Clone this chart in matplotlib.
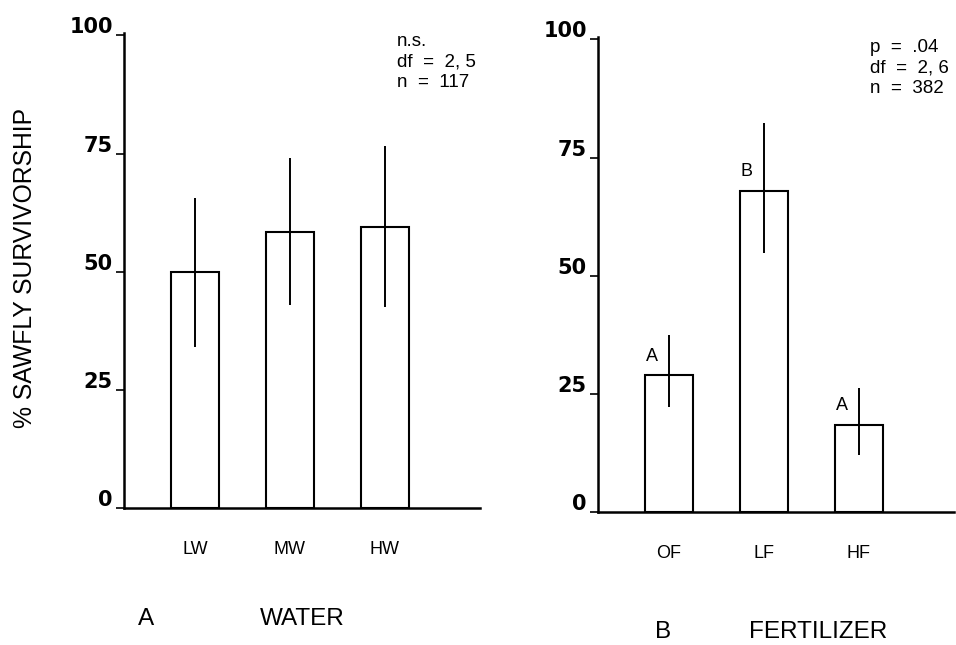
import numpy as np
import matplotlib
matplotlib.use("Agg")
import matplotlib.pyplot as plt
import matplotlib.transforms as mtransforms

plt.rcParams['font.family'] = ['Liberation Sans', 'DejaVu Sans']

# panel A - water
water_labels = ["LW", "MW", "HW"]
water_mean = [50.0, 58.5, 59.5]
water_lo = [34.0, 43.0, 42.5]
water_hi = [65.5, 74.0, 76.5]

# panel B - fertilizer
fert_labels = ["OF", "LF", "HF"]
fert_mean = [29.0, 68.0, 18.5]
fert_lo = [22.3, 54.7, 12.0]
fert_hi = [37.5, 82.3, 26.3]
fert_groups = ["A", "B", "A"]

yticks = [0, 25, 50, 75, 100]


def draw_panel(ax, labels, mean, lo, hi, groups=None):
    x = np.arange(1, len(labels) + 1)
    mean = np.array(mean)
    yerr = [mean - np.array(lo), np.array(hi) - mean]
    ax.bar(x, mean, width=0.51, color="white", edgecolor="black", linewidth=1.5, zorder=2)
    ax.errorbar(x, mean, yerr=yerr, fmt="none", ecolor="black", elinewidth=1.4, capsize=0, zorder=3)
    if groups:
        for xi, m, g in zip(x, mean, groups):
            ax.text(xi - 0.18, m + 2.2, g, ha="center", va="bottom", fontsize=13)
    ax.set_xlim(0.25, 4.0)
    ax.set_ylim(0, 100.5)
    ax.set_xticks(x)
    ax.set_xticklabels(labels, fontsize=13)
    ax.tick_params(axis="x", length=0, pad=24)
    ax.set_yticks(yticks)
    ax.set_yticklabels([str(t) for t in yticks], fontsize=15, fontweight="bold", family="DejaVu Sans")
    ax.tick_params(axis="y", length=6, width=1.2, pad=2)
    # numbers sit just above their tick marks
    off = mtransforms.ScaledTranslation(0, 10 / 100, ax.figure.dpi_scale_trans)
    for lab in ax.get_yticklabels():
        lab.set_transform(lab.get_transform() + off)
    for s in ["top", "right"]:
        ax.spines[s].set_visible(False)
    for s in ["left", "bottom"]:
        ax.spines[s].set_linewidth(1.8)


fig = plt.figure(figsize=(9.56, 6.45), dpi=100)
ax1 = fig.add_axes([0.1297, 0.2124, 0.372, 0.7364])
ax2 = fig.add_axes([0.6255, 0.2062, 0.372, 0.7364])

draw_panel(ax1, water_labels, water_mean, water_lo, water_hi)
draw_panel(ax2, fert_labels, fert_mean, fert_lo, fert_hi, fert_groups)

fig.text(0.026, 0.584, "% SAWFLY SURVIVORSHIP", rotation=90, ha="center", va="center", fontsize=17.8)

fig.text(0.4153, 0.9488, "n.s.\ndf  =  2, 5\nn  =  117", ha="left", va="top", fontsize=13.5, linespacing=1.25)
fig.text(0.910, 0.9395, "p  =  .04\ndf  =  2, 6\nn  =  382", ha="left", va="top", fontsize=13.5, linespacing=1.25)

fig.text(0.1527, 0.0403, "A", ha="center", va="center", fontsize=17.5)
fig.text(0.3159, 0.0403, "WATER", ha="center", va="center", fontsize=17.5)
fig.text(0.6935, 0.0202, "B", ha="center", va="center", fontsize=17.5)
fig.text(0.8556, 0.0202, "FERTILIZER", ha="center", va="center", fontsize=17.5)

fig.savefig("out.png", dpi=100)
